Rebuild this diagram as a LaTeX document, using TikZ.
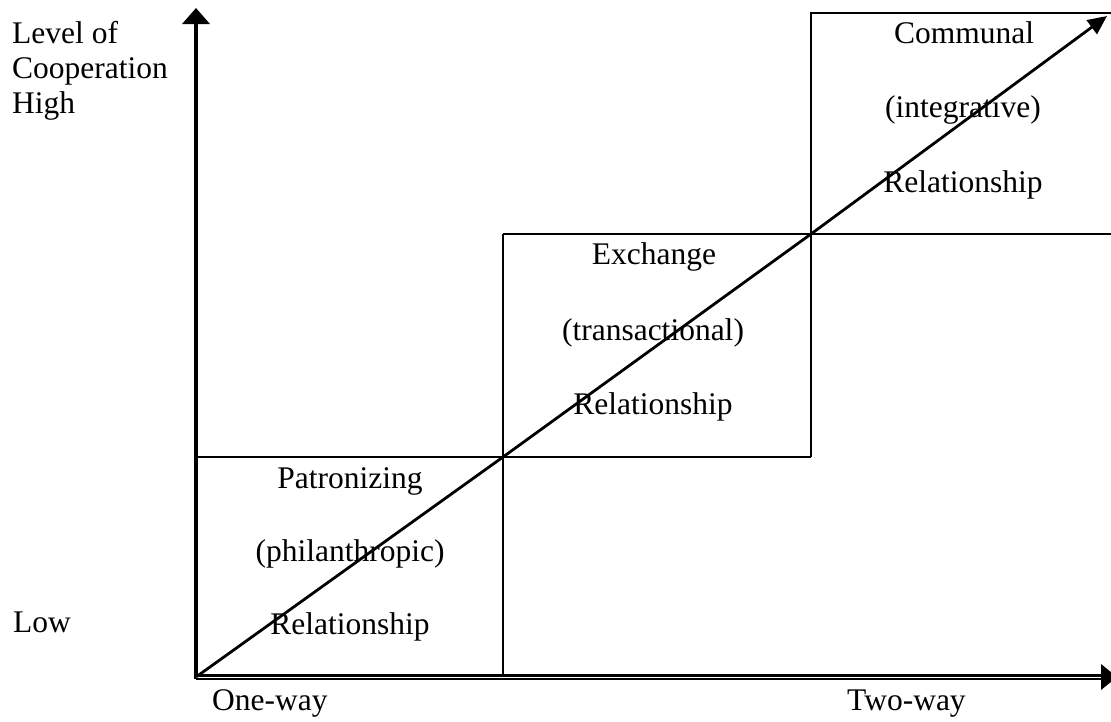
\documentclass[tikz,border=0pt]{standalone}
\usepackage{fontspec}
\setmainfont{Liberation Serif}
\usetikzlibrary{arrows.meta}
\begin{document}
\begin{tikzpicture}[x=1pt,y=-1pt,
  lbl/.style={inner sep=0pt,anchor=base,font=\fontsize{31.5}{36}\selectfont},
  lblw/.style={lbl,anchor=base west},
  axisline/.style={line width=3.6pt,-{Triangle[length=16pt,width=27pt]}},
  boxline/.style={line width=2.4pt},
  diagline/.style={line width=2.8pt,-{Triangle[length=19pt,width=17pt]}}]
\useasboundingbox (0,0) rectangle (1111,721);
\fill[white] (0,0) rectangle (1111,721);
% key coordinates
\coordinate (O) at (196,677);
\coordinate (Ytip) at (196,8);
\coordinate (Xend) at (1102,677);
\coordinate (A) at (503,457);
\coordinate (B) at (811,234);
\coordinate (Dtip) at (1107,16);
% boxes
\draw[boxline] (196,457) -- (A) -- (811,457);
\draw[boxline] (A |- O) -- (A) -- (503,234);
\draw[boxline] (503,234) -- (B) -- (1111,234);
\draw[boxline] (811,457) -- (B) -- (811,13) -- (1111,13);
% axes
\draw[axisline] (196,679) -- (Ytip);
\draw[line width=2.2pt,double,double distance=1pt] (O) -- (Xend);
\fill (1101,664) -- (1117,677) -- (1101,690) -- cycle;
% diagonal
\draw[diagline] (O) -- (A) -- (B) -- (Dtip);
% labels
\node[lblw] (lev) at (12,43) {Level of};
\node[lblw] (coop) at (12,78) {Cooperation};
\node[lblw] (high) at (12,113) {High};
\node[lblw] (low) at (13,632) {Low};
\node[lblw] (one) at (212,710) {One-way};
\node[lblw] (two) at (847,710) {Two-way};
\node[lbl] (p1) at (350,488) {Patronizing};
\node[lbl] (p2) at (350,561) {(philanthropic)};
\node[lbl] (p3) at (350,634) {Relationship};
\node[lbl] (e1) at (654,264) {Exchange};
\node[lbl] (e2) at (653,340) {(transactional)};
\node[lbl] (e3) at (653,414) {Relationship};
\node[lbl] (c1) at (964,43) {Communal};
\node[lbl] (c2) at (963,117) {(integrative)};
\node[lbl] (c3) at (963,192) {Relationship};
\end{tikzpicture}
\end{document}
